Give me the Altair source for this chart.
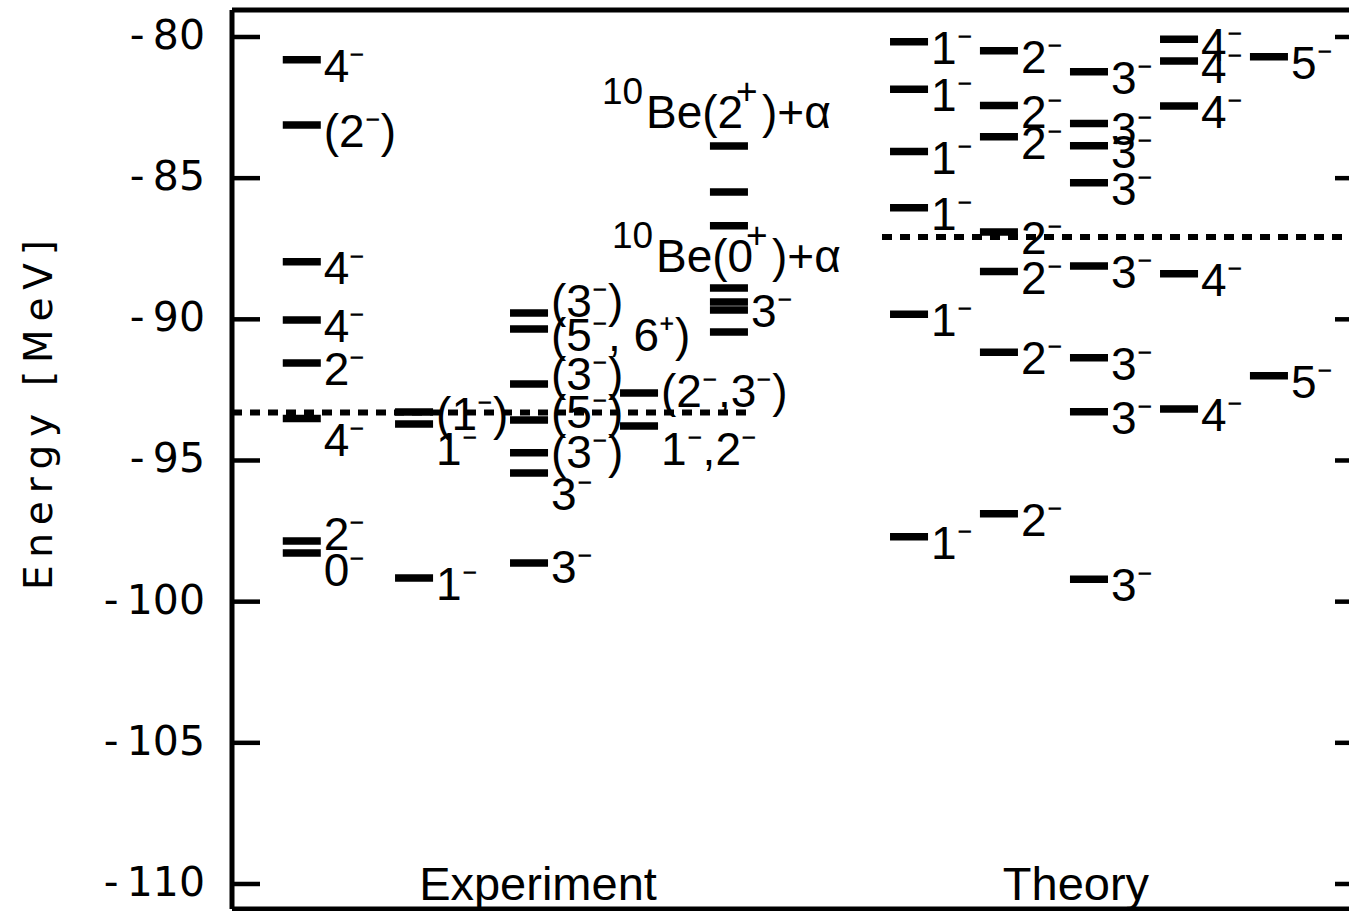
import altair as alt
import pandas as pd

# ---------------------------------------------------------------
# Energy levels (MeV) with spin-parity labels
# ---------------------------------------------------------------
# experimental columns 0..4, theoretical columns 5..9 (one per J)
exp_slot = [0, 0, 0, 0, 0, 0, 0, 0,
            1, 1, 1,
            2, 2, 2, 2, 2, 2, 2,
            3, 3,
            4, 4, 4, 4, 4, 4, 4]
exp_energy = [-80.81, -83.12, -87.96, -90.02, -91.55, -93.51, -97.85, -98.28,
              -93.28, -93.71, -99.16,
              -89.78, -90.34, -92.29, -93.57, -94.73, -95.44, -98.63,
              -92.61, -93.78,
              -83.86, -85.49, -86.69, -88.89, -89.39, -89.67, -90.45]
exp_jpi = ["4⁻", "(2⁻)", "4⁻", "4⁻", "2⁻", "4⁻", "2⁻", "0⁻",
           "(1⁻)", "1⁻", "1⁻",
           "(3⁻)", "(5⁻, 6⁺)", "(3⁻)", "(5⁻)", "(3⁻)", "3⁻", "3⁻",
           "(2⁻,3⁻)", "1⁻,2⁻",
           "", "", "", "", "", "3⁻", ""]
# vertical shift of each label below its level line (px)
exp_label_shift = [22, 22, 22, 22, 22, 38, 9, 33,
                   18, 41, 22,
                   4, 22, 6, 8, 15, 37, 20,
                   14, 39,
                   22, 22, 22, 22, 22, 17, 22]

th_jpi = ["1⁻", "2⁻", "3⁻", "4⁻", "5⁻"]
th_energy = [
    [-80.17, -81.85, -84.06, -86.05, -89.82, -97.70],
    [-80.49, -82.43, -83.53, -86.91, -88.31, -91.17, -96.89],
    [-81.23, -83.06, -83.85, -85.16, -88.11, -91.36, -93.27, -99.21],
    [-80.08, -80.85, -82.44, -88.39, -93.18],
    [-80.70, -92.00],
]

# 10Be + alpha thresholds; labels written as (text, superscript?) pieces
thr_exp = -93.30
thr_th = -87.08
thr_label_pieces = [
    [("10", True), ("Be(2", False), ("+", True), (")+α", False)],
    [("10", True), ("Be(0", False), ("+", True), (")+α", False)],
]
thr_label_energy = [-83.22, -88.32]

column_titles = ["Experiment", "Theory"]
y_ticks = [-110, -105, -100, -95, -90, -85, -80]
y_tick_labels = ["-110", "-105", "-100", "-95", "-90", "-85", "-80"]
y_title = "Energy [MeV]"

# ---------------------------------------------------------------
# layout
# ---------------------------------------------------------------
W, H = 1117, 899
X_DOM = [0.0, 9.9]
Y_DOM = [-110.886, -79.044]
PX_PER_MEV = H / (Y_DOM[1] - Y_DOM[0])
PX_PER_X = W / (X_DOM[1] - X_DOM[0])
slot_left = [0.45, 1.445, 2.464, 3.439, 4.236, 5.832, 6.629, 7.427, 8.225, 9.022]
bar_len = 0.337
FONT = "Liberation Sans"
AXIS_FONT = "DejaVu Sans"
THIN = "\u2009"
FS = 46          # label font size
FS_SUP = 37      # superscript font size
SUP_RAISE = 24   # superscript baseline raise (px)
thr_label_left = [370, 380]              # px from the left frame
thr_piece_dx = [0, 44, 134, 160]         # px offsets of the pieces

XS = alt.Scale(domain=X_DOM, nice=False, zero=False)
YS = alt.Scale(domain=Y_DOM, nice=False, zero=False)


def X(field):
    return alt.X(field, type="quantitative", scale=XS, axis=None)


def Y(field):
    return alt.Y(field, type="quantitative", scale=YS, axis=None)


rows = []
for s, e, t, d in zip(exp_slot, exp_energy, exp_jpi, exp_label_shift):
    x0 = slot_left[s]
    rows.append(dict(bx=x0, bx2=x0 + bar_len, lx=x0 + bar_len + 3 / PX_PER_X,
                     en=e, jpi=t, ly=e - d / PX_PER_MEV))
for j, (lab, energies) in enumerate(zip(th_jpi, th_energy)):
    x0 = slot_left[5 + j]
    for e in energies:
        rows.append(dict(bx=x0, bx2=x0 + bar_len, lx=x0 + bar_len + 3 / PX_PER_X,
                         en=e, jpi=lab, ly=e - 22 / PX_PER_MEV))
levels = pd.DataFrame(rows)

bars = alt.Chart(levels).mark_rule(color="black", strokeWidth=7.5).encode(
    x=X("bx"), x2=alt.X2("bx2"), y=Y("en"))

labels = alt.Chart(levels).mark_text(
    align="left", baseline="alphabetic", font=FONT, fontSize=FS, color="black"
).encode(x=X("lx"), y=Y("ly"), text=alt.Text("jpi", type="nominal"))

thr_df = pd.DataFrame({
    "bx": [0.0, 5.761], "bx2": [4.573, X_DOM[1]], "en": [thr_exp, thr_th]})
thresholds = alt.Chart(thr_df).mark_rule(
    color="black", strokeWidth=6, strokeDash=[10, 8]
).encode(x=X("bx"), x2=alt.X2("bx2"), y=Y("en"))

# threshold labels built from normal and superscript pieces
piece_rows = []
for pieces, left, e in zip(thr_label_pieces, thr_label_left, thr_label_energy):
    for (txt, sup), dx in zip(pieces, thr_piece_dx):
        piece_rows.append(dict(
            lx=(left + dx) / PX_PER_X,
            ly=e + (SUP_RAISE / PX_PER_MEV if sup else 0.0),
            jpi=txt, fs=FS_SUP if sup else FS))
thr_text = alt.Chart(pd.DataFrame(piece_rows)).mark_text(
    align="left", baseline="alphabetic", font=FONT, color="black"
).encode(x=X("lx"), y=Y("ly"), text=alt.Text("jpi", type="nominal"),
         size=alt.Size("fs", type="quantitative", scale=None, legend=None))

titles = alt.Chart(pd.DataFrame({
    "lx": [2.712, 7.480], "ly": [-110.57, -110.57], "jpi": column_titles})).mark_text(
    align="center", baseline="alphabetic", font=FONT, fontSize=47, color="black"
).encode(x=X("lx"), y=Y("ly"), text=alt.Text("jpi", type="nominal"))

# inward ticks on both sides, tick labels and axis title
tick_df = pd.DataFrame({
    "en": y_ticks,
    "lab": [t.replace("-", "-" + THIN) for t in y_tick_labels],
    "lx0": X_DOM[0], "lx1": X_DOM[0] + 28 / PX_PER_X,
    "rx0": X_DOM[1] - 14 / PX_PER_X, "rx1": X_DOM[1],
    "tx": X_DOM[0] - 27 / PX_PER_X,
})
left_ticks = alt.Chart(tick_df).mark_rule(color="black", strokeWidth=4.5).encode(
    y=Y("en"), x=X("lx0"), x2=alt.X2("lx1"))
right_ticks = alt.Chart(tick_df).mark_rule(color="black", strokeWidth=4.5).encode(
    y=Y("en"), x=X("rx0"), x2=alt.X2("rx1"))
tick_text = alt.Chart(tick_df).mark_text(
    align="right", baseline="middle", font=AXIS_FONT, fontSize=41, color="black"
).encode(x=X("tx"), y=Y("en"), text=alt.Text("lab", type="nominal"))

title_df = pd.DataFrame({
    "lab": [THIN.join(y_title)],
    "tx": [X_DOM[0] - 180 / PX_PER_X],
    "en": [-93.39],
})
y_title_mark = alt.Chart(title_df).mark_text(
    align="center", baseline="alphabetic", angle=270, font=AXIS_FONT, fontSize=39,
    color="black"
).encode(x=X("tx"), y=Y("en"), text=alt.Text("lab", type="nominal"))

# plot frame: left edge, top edge, bottom edge
frame_df = pd.DataFrame({
    "bx": [X_DOM[0], X_DOM[0], X_DOM[0]],
    "bx2": [X_DOM[0], X_DOM[1], X_DOM[1]],
    "en": [Y_DOM[0], Y_DOM[1], Y_DOM[0]],
    "en2": [Y_DOM[1], Y_DOM[1], Y_DOM[0]],
})
frame = alt.Chart(frame_df).mark_rule(color="black", strokeWidth=5).encode(
    x=X("bx"), x2=alt.X2("bx2"), y=Y("en"), y2=alt.Y2("en2"))

chart = alt.layer(
    thresholds, bars, labels, thr_text, titles, left_ticks, right_ticks,
    tick_text, y_title_mark, frame
).properties(
    width=W, height=H,
    autosize=alt.AutoSizeParams(type="none"),
    padding={"left": 232, "top": 10, "right": 0, "bottom": 2},
).configure_view(strokeWidth=0)

chart.save("out.html", embed_options={"renderer": "svg", "actions": False})
